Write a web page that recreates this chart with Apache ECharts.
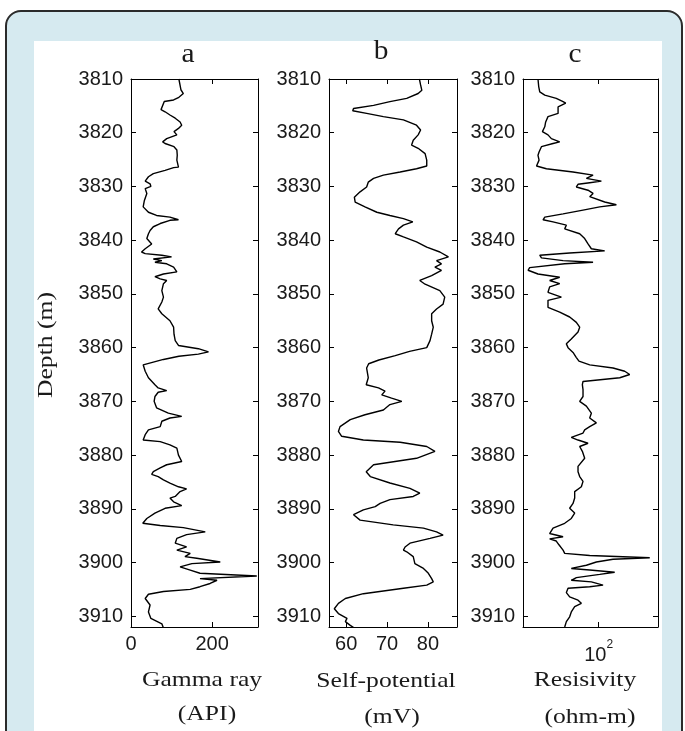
<!DOCTYPE html>
<html>
<head>
<meta charset="utf-8">
<script src="https://cdn.jsdelivr.net/npm/echarts@6/dist/echarts.min.js"></script>
<style>
  html, body { margin: 0; padding: 0; background: #fff; overflow: hidden; }
  .frame { position: absolute; left: 5px; top: 10px; width: 674px; height: 760px;
           background: #d6eaf0; border: 2px solid #2b2b2b; border-radius: 16px; }
  .sheet { position: absolute; left: 34px; top: 41px; width: 628px; height: 700px; background: #fff; }
  #chart { position: absolute; left: 0; top: 0; width: 685px; height: 731px; }
</style>
</head>
<body>
<div class="frame"></div>
<div class="sheet"></div>
<div id="chart"></div>
<script>
// gamma ray log (API) vs depth (m)
const depthGamma = [3810.0, 3812.0, 3812.7, 3813.4, 3813.9, 3814.2, 3814.5, 3815.7, 3816.1, 3816.7, 3817.3, 3818.0, 3818.6, 3819.2, 3819.8, 3820.4, 3821.1, 3821.7, 3822.0, 3822.6, 3823.2, 3824.2, 3825.1, 3826.4, 3826.5, 3827.0, 3827.6, 3828.2, 3829.0, 3829.5, 3830.0, 3830.4, 3831.3, 3832.6, 3833.8, 3834.8, 3835.4, 3835.7, 3836.2, 3836.3, 3836.9, 3837.5, 3838.2, 3838.8, 3839.7, 3840.7, 3841.6, 3842.2, 3842.5, 3842.8, 3843.1, 3843.5, 3843.8, 3844.1, 3844.4, 3845.0, 3845.9, 3846.3, 3846.8, 3847.2, 3847.5, 3848.1, 3849.4, 3850.6, 3851.5, 3852.8, 3853.7, 3855.0, 3856.2, 3857.5, 3858.7, 3859.6, 3860.2, 3860.8, 3861.2, 3861.6, 3862.2, 3863.2, 3864.4, 3865.6, 3866.9, 3867.5, 3868.0, 3868.3, 3869.1, 3870.0, 3871.2, 3872.2, 3872.8, 3873.1, 3873.7, 3874.7, 3875.3, 3876.2, 3877.2, 3877.5, 3878.1, 3878.7, 3880.0, 3881.2, 3881.8, 3882.4, 3883.1, 3883.6, 3884.0, 3884.6, 3885.2, 3885.9, 3886.3, 3886.8, 3887.7, 3888.0, 3888.7, 3889.4, 3889.9, 3890.8, 3891.8, 3892.7, 3893.1, 3893.5, 3894.3, 3894.8, 3895.5, 3896.4, 3897.1, 3897.7, 3898.3, 3898.9, 3899.2, 3899.9, 3900.2, 3900.8, 3901.4, 3902.0, 3902.5, 3903.0, 3903.3, 3903.9, 3904.5, 3905.0, 3905.4, 3905.9, 3906.7, 3907.9, 3909.2, 3910.4, 3911.4, 3912.2];
const gammaRay = [118, 123, 129, 118, 105, 82, 80, 74, 84, 96, 109, 121, 125, 117, 106, 113, 88, 78, 84, 106, 113, 114, 113, 117, 105, 84, 55, 43, 35, 47, 49, 35, 39, 33, 30, 43, 63, 96, 117, 96, 72, 55, 47, 43, 39, 51, 35, 26, 35, 76, 100, 55, 76, 59, 88, 105, 113, 80, 59, 72, 88, 80, 76, 80, 76, 67, 76, 96, 105, 106, 109, 117, 166, 191, 166, 118, 80, 30, 35, 43, 59, 67, 88, 67, 59, 57, 63, 92, 125, 96, 76, 72, 43, 35, 30, 72, 96, 113, 117, 125, 88, 72, 55, 51, 67, 80, 96, 117, 137, 121, 109, 96, 105, 125, 84, 59, 39, 29, 72, 129, 183, 137, 113, 109, 137, 113, 146, 133, 162, 220, 150, 121, 146, 170, 310, 170, 212, 195, 170, 146, 80, 43, 35, 47, 43, 49, 76, 80];

// self-potential log (mV) vs depth (m)
const depthSP = [3810.0, 3811.1, 3812.1, 3812.7, 3813.6, 3814.2, 3814.9, 3815.5, 3815.9, 3816.4, 3817.0, 3817.6, 3818.6, 3819.5, 3820.4, 3821.4, 3822.3, 3822.9, 3823.9, 3825.1, 3826.2, 3826.7, 3827.3, 3827.9, 3828.5, 3829.2, 3830.1, 3831.0, 3832.0, 3832.9, 3833.8, 3834.8, 3835.4, 3836.0, 3836.6, 3837.2, 3837.9, 3838.8, 3839.4, 3840.3, 3841.3, 3842.2, 3843.1, 3843.8, 3844.4, 3845.0, 3845.6, 3846.6, 3847.5, 3848.2, 3849.4, 3850.6, 3851.9, 3852.8, 3853.7, 3855.0, 3856.2, 3857.5, 3858.7, 3860.0, 3860.7, 3861.5, 3862.3, 3863.0, 3863.8, 3865.6, 3866.9, 3867.5, 3868.1, 3868.8, 3869.4, 3870.0, 3870.6, 3871.6, 3872.5, 3873.4, 3874.7, 3875.6, 3876.5, 3877.2, 3877.6, 3878.4, 3879.3, 3879.6, 3880.6, 3881.8, 3883.1, 3884.0, 3885.2, 3886.2, 3887.1, 3887.7, 3888.3, 3889.0, 3889.6, 3890.2, 3891.1, 3892.1, 3893.0, 3893.6, 3894.3, 3894.9, 3895.5, 3896.4, 3897.1, 3897.7, 3898.0, 3898.9, 3900.2, 3901.1, 3902.0, 3903.0, 3903.6, 3904.2, 3904.8, 3905.8, 3906.7, 3907.6, 3908.6, 3909.5, 3910.4, 3911.0, 3911.7, 3912.3];
const selfPotential = [77.9, 78.2, 78.5, 77.6, 74.8, 70.7, 66.7, 61.8, 61.6, 65.0, 69.1, 74.0, 77.2, 78.2, 77.6, 76.4, 76.0, 77.6, 79.3, 79.7, 79.7, 77.2, 73.2, 69.1, 66.7, 65.4, 65.0, 63.4, 62.0, 62.2, 64.6, 67.5, 70.7, 74.0, 76.3, 74.0, 72.8, 72.0, 74.0, 77.2, 79.7, 82.9, 85.0, 82.1, 83.3, 81.7, 83.3, 80.9, 78.0, 79.3, 82.9, 84.1, 83.7, 82.1, 80.9, 80.9, 81.3, 80.9, 80.5, 79.7, 75.5, 72.0, 68.0, 65.5, 65.0, 65.4, 64.9, 67.9, 69.5, 68.7, 71.1, 73.6, 70.7, 69.1, 64.6, 61.0, 58.5, 58.1, 58.9, 64.2, 73.2, 79.7, 81.7, 82.1, 77.2, 66.7, 64.9, 65.9, 70.7, 75.6, 78.0, 76.4, 70.7, 68.3, 67.1, 64.2, 61.8, 63.4, 71.5, 78.9, 82.1, 83.7, 80.5, 75.6, 74.4, 74.0, 74.8, 76.4, 76.8, 78.9, 80.1, 80.9, 81.3, 79.7, 74.0, 64.2, 59.8, 58.1, 57.1, 58.1, 60.2, 59.8, 61.0, 62.2];

// resistivity log (ohm-m) vs depth (m)
const depthRes = [3810.0, 3811.4, 3812.4, 3813.0, 3813.6, 3814.2, 3814.5, 3815.2, 3816.4, 3817.0, 3818.0, 3818.9, 3819.8, 3820.4, 3821.1, 3821.7, 3822.0, 3822.6, 3823.6, 3824.2, 3825.1, 3826.2, 3826.7, 3827.3, 3827.9, 3828.5, 3829.0, 3829.3, 3829.6, 3830.1, 3830.7, 3831.3, 3831.9, 3832.9, 3833.4, 3833.8, 3834.4, 3835.1, 3835.7, 3836.2, 3836.6, 3837.2, 3837.9, 3838.8, 3839.7, 3840.7, 3841.6, 3842.0, 3842.4, 3842.8, 3843.3, 3843.8, 3844.1, 3844.4, 3845.1, 3845.6, 3846.3, 3846.9, 3847.5, 3848.1, 3848.7, 3849.7, 3850.6, 3851.2, 3852.5, 3853.4, 3854.3, 3855.3, 3856.2, 3857.1, 3858.4, 3859.3, 3860.0, 3860.9, 3861.8, 3862.5, 3863.2, 3863.8, 3864.4, 3865.0, 3865.6, 3866.3, 3866.9, 3867.8, 3869.1, 3870.0, 3870.9, 3872.2, 3873.1, 3874.0, 3874.7, 3875.3, 3875.9, 3876.7, 3877.2, 3877.8, 3878.4, 3879.3, 3880.6, 3882.1, 3883.1, 3884.0, 3884.9, 3885.9, 3886.8, 3888.0, 3889.0, 3889.9, 3890.8, 3891.8, 3892.7, 3893.6, 3894.6, 3895.2, 3895.6, 3896.0, 3896.7, 3897.7, 3898.3, 3898.7, 3899.1, 3899.4, 3899.9, 3900.5, 3901.1, 3901.4, 3901.8, 3902.2, 3902.8, 3903.3, 3903.6, 3904.2, 3904.5, 3904.8, 3905.6, 3906.4, 3907.0, 3907.6, 3908.2, 3909.2, 3910.1, 3911.0, 3912.0];
const resistivity = [23.0, 23.4, 24.0, 27.1, 35.8, 42.2, 45.0, 37.4, 37.4, 29.3, 27.7, 27.1, 25.6, 29.3, 31.8, 38.9, 33.1, 25.0, 23.6, 23.0, 23.6, 22.2, 28.2, 53.7, 87.2, 74.2, 106.7, 80.4, 60.6, 58.2, 77.2, 87.2, 80.4, 115.6, 153.4, 102.5, 68.4, 42.2, 27.1, 26.0, 33.1, 45.7, 43.9, 63.1, 71.2, 77.2, 83.7, 115.6, 49.5, 24.0, 25.0, 42.2, 87.2, 43.9, 18.8, 18.1, 23.0, 38.9, 30.5, 38.9, 30.5, 29.3, 40.5, 29.3, 29.3, 38.9, 49.5, 58.2, 63.1, 60.6, 51.5, 45.7, 47.6, 53.7, 58.0, 62.0, 80.4, 141.5, 187.7, 211.8, 166.4, 68.4, 67.3, 68.4, 68.4, 63.1, 74.2, 83.7, 80.4, 94.5, 80.4, 71.2, 68.4, 51.5, 60.6, 77.2, 63.1, 67.3, 71.2, 60.6, 60.6, 63.1, 68.4, 65.7, 55.9, 55.9, 53.7, 49.5, 55.9, 51.5, 43.9, 33.1, 30.5, 42.2, 30.5, 35.8, 38.2, 42.2, 43.9, 80.4, 344, 141.5, 94.5, 74.2, 51.5, 80.4, 147.2, 102.5, 58.2, 51.5, 83.7, 111.1, 80.4, 47.6, 45.7, 49.5, 60.6, 65.7, 55.9, 51.5, 49.5, 45.7, 43.9];

const depthTicks = [3810, 3820, 3830, 3840, 3850, 3860, 3870, 3880, 3890, 3900, 3910];
const gammaTicks = [0, 200];
const spTicks = [60, 70, 80];

const sans = '"Liberation Sans", Arial, sans-serif';
const serif = '"Liberation Serif", "Times New Roman", serif';
const ink = '#1a1a1a';

const chart = echarts.init(document.getElementById('chart'));

const panels = [
  { left: 131, width: 127, type: 'value', min: 0, max: 313, ticks: gammaTicks, xs: gammaRay, ys: depthGamma },
  { left: 329, width: 128, type: 'value', min: 55.8, max: 87.1, ticks: spTicks, xs: selfPotential, ys: depthSP },
  { left: 523, width: 135, type: 'log', min: 16, max: 420, ticks: null, xs: resistivity, ys: depthRes }
];

const lineAxis = { onZero: false, lineStyle: { color: '#000', width: 1 } };
const plain = v => String(v);

const grids = [], xAxes = [], yAxes = [], series = [];
panels.forEach((p, i) => {
  grids.push({ left: p.left, top: 79, width: p.width, height: 548, outerBoundsMode: 'none' });

  ['bottom', 'top'].forEach(pos => {
    const ax = {
      gridIndex: i, type: p.type, position: pos, min: p.min, max: p.max,
      axisLine: lineAxis,
      axisTick: { inside: true, length: 5, lineStyle: { color: '#000' } },
      splitLine: { show: false },
      axisLabel: {
        show: pos === 'bottom', color: ink, fontFamily: sans, fontSize: 20, margin: 7, formatter: plain
      }
    };
    if (p.ticks) {
      ax.axisTick.customValues = p.ticks;
      ax.axisLabel.customValues = p.ticks;
    } else {
      ax.logBase = 10;
      ax.axisLabel.showMinLabel = false;
      ax.axisLabel.showMaxLabel = false;
      ax.axisLabel.margin = 12;
      ax.axisLabel.formatter = v => (Math.abs(v - 100) < 1e-6 ? '{b|10}{s|2}' : '');
      ax.axisLabel.rich = {
        b: { fontFamily: sans, fontSize: 20, color: ink, padding: [6, 0, 0, 0] },
        s: { fontFamily: sans, fontSize: 12, color: ink, verticalAlign: 'top', padding: [0, 0, 10, 0] }
      };
    }
    xAxes.push(ax);
  });

  ['left', 'right'].forEach(pos => {
    yAxes.push({
      gridIndex: i, type: 'value', position: pos, inverse: true, min: 3810, max: 3912,
      axisLine: lineAxis,
      axisTick: { inside: true, length: 5, customValues: depthTicks, lineStyle: { color: '#000' } },
      splitLine: { show: false },
      axisLabel: {
        show: pos === 'left', customValues: depthTicks, formatter: plain,
        color: ink, fontFamily: sans, fontSize: 20, margin: 8
      }
    });
  });

  series.push({
    type: 'line',
    xAxisIndex: 2 * i,
    yAxisIndex: 2 * i,
    data: p.xs.map((v, k) => [v, p.ys[k]]),
    symbol: 'none',
    lineStyle: { color: '#000', width: 1.4 },
    silent: true
  });
});

function label(text, x, y, size, extra) {
  return Object.assign({
    type: 'text', x: x, y: y, scaleX: 1.22,
    style: { text: text, font: size + 'px ' + serif, fill: ink, textAlign: 'center', textVerticalAlign: 'middle' }
  }, extra || {});
}

chart.setOption({
  animation: false,
  backgroundColor: 'transparent',
  grid: grids,
  xAxis: xAxes,
  yAxis: yAxes,
  series: series,
  graphic: [
    label('a', 188, 55, 28, { scaleX: 1.05 }),
    label('b', 381, 52, 28, { scaleX: 1.05 }),
    label('c', 575, 55, 28, { scaleX: 1.05 }),
    label('Depth (m)', 46, 345, 21, { rotation: Math.PI / 2 }),
    label('Gamma ray', 202, 680, 21),
    label('(API)', 207, 714, 21),
    label('Self-potential', 386, 681, 21),
    label('(mV)', 392, 717, 21),
    label('Resisivity', 585, 680, 21),
    label('(ohm-m)', 590, 717, 21)
  ]
});
</script>
</body>
</html>
